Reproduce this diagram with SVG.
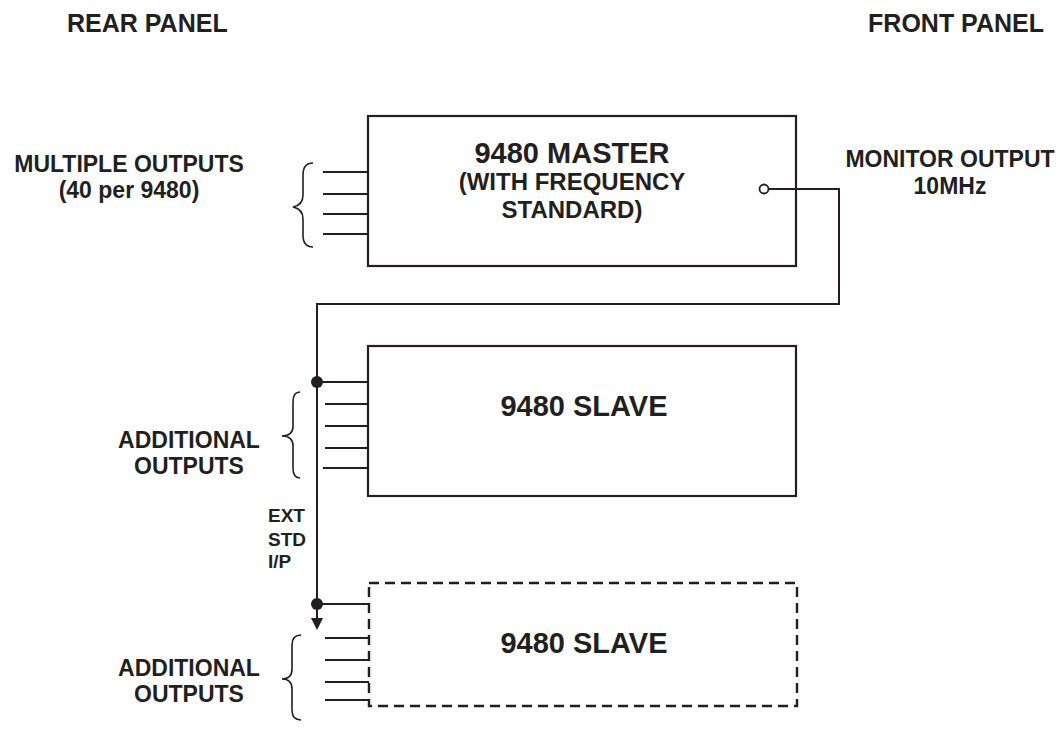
<svg xmlns="http://www.w3.org/2000/svg" width="1060" height="734" viewBox="0 0 1060 734">
<style>
text{font-family:"Liberation Sans",Arial,sans-serif;font-weight:bold;fill:#231f20}
.title{font-size:25px}
.lbl{font-size:23px;text-anchor:middle}
.big{font-size:29px;text-anchor:middle}
.sub{font-size:24px;text-anchor:middle}
.small{font-size:19px}
.box{fill:#fff;stroke:#231f20;stroke-width:2.2}
.dash{fill:#fff;stroke:#231f20;stroke-width:2.4;stroke-dasharray:10 6}
.ln{fill:none;stroke:#231f20;stroke-width:2}
.br{fill:none;stroke:#231f20;stroke-width:1.6}
</style>
<rect width="1060" height="734" fill="#fff"/>
<text class="title" x="67" y="32">REAR PANEL</text>
<text class="title" x="1044" y="32" text-anchor="end">FRONT PANEL</text>
<g id="master">
<rect class="box" x="368" y="116" width="428" height="150"/>
<text class="big" x="572" y="163">9480 MASTER</text>
<text class="sub" x="572" y="190">(WITH FREQUENCY</text>
<text class="sub" x="572" y="218">STANDARD)</text>
</g>
<g id="slave1">
<rect class="box" x="368" y="346" width="428" height="150"/>
<text class="big" x="584" y="416">9480 SLAVE</text>
</g>
<g id="slave2">
<rect class="dash" x="369" y="583" width="428" height="123"/>
<text class="big" x="584" y="653">9480 SLAVE</text>
</g>
<g id="master-outputs">
<path class="ln" d="M323,172H368M323,194H368M323,214H368M323,234H368"/>
<path class="br" d="M313,163Q303,163 303,175V195Q303,205 293,207Q303,209 303,219V235Q303,247 313,247"/>
<text class="lbl" x="129" y="172">MULTIPLE OUTPUTS</text>
<text class="lbl" x="129" y="198">(40 per 9480)</text>
</g>
<g id="slave1-outputs">
<path class="ln" d="M325,404H368M325,426H368M325,448H368M323,468H368"/>
<path class="br" d="M300,392Q293,392 293,402V426Q293,436 282,436Q293,436 293,446V468Q293,478 300,478"/>
<text class="lbl" x="189" y="448">ADDITIONAL</text>
<text class="lbl" x="189" y="474">OUTPUTS</text>
</g>
<g id="slave2-outputs">
<path class="ln" d="M325,638H369M325,660H369M325,682H369M325,700H369"/>
<path class="br" d="M301,635Q292,635 292,645V669Q292,679 282,679Q292,679 292,689V710Q292,720 301,720"/>
<text class="lbl" x="189" y="676">ADDITIONAL</text>
<text class="lbl" x="189" y="702">OUTPUTS</text>
</g>
<g id="monitor">
<text class="lbl" x="950" y="167">MONITOR OUTPUT</text>
<text class="lbl" x="950" y="194">10MHz</text>
</g>
<g id="ext">
<text class="small" x="268" y="522">EXT</text>
<text class="small" x="268" y="546">STD</text>
<text class="small" x="268" y="568">I/P</text>
</g>
<g id="connectors">
<path class="ln" d="M768.5,189H839V304H317V619"/>
<path class="ln" d="M317,382H368M317,604H369"/>
<circle cx="764" cy="189" r="4.5" fill="#fff" stroke="#231f20" stroke-width="1.8"/>
<circle cx="317" cy="382" r="6" fill="#231f20"/>
<circle cx="317" cy="604" r="6" fill="#231f20"/>
<polygon points="311,618 323,618 317,630" fill="#231f20"/>
</g>
</svg>
